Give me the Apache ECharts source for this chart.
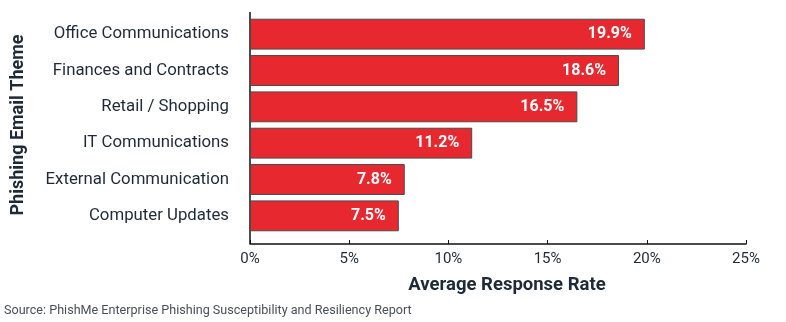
<!DOCTYPE html>
<html>
<head>
<meta charset="utf-8">
<script src="https://cdn.jsdelivr.net/npm/echarts@6/dist/echarts.min.js"></script>
<style>
  html, body { margin: 0; padding: 0; background: #fff; }
  #chart { width: 786px; height: 322px; }
</style>
</head>
<body>
<div id="chart"></div>
<script>
// Phishing email themes, listed top to bottom
const themes = [
  'Office Communications',
  'Finances and Contracts',
  'Retail / Shopping',
  'IT Communications',
  'External Communication',
  'Computer Updates'
];
// Average response rate (%) for each theme
const responseRates = [19.9, 18.6, 16.5, 11.2, 7.8, 7.5];
// Value axis ticks (%)
const rateTicks = [0, 5, 10, 15, 20, 25];

const FONT = 'Roboto, "Open Sans", sans-serif';
const TEXT = '#1e2a38';
const GRID = { left: 250, top: 16, width: 496, height: 218 };
const AXIS_BOTTOM = GRID.top + GRID.height + 10;

const chart = echarts.init(document.getElementById('chart'), null, { renderer: 'canvas' });

chart.setOption({
  animation: false,
  backgroundColor: '#ffffff',
  title: {
    text: 'Source: PhishMe Enterprise Phishing Susceptibility and Resiliency Report',
    left: 4,
    top: 304,
    padding: 0,
    textStyle: { fontFamily: FONT, fontSize: 12.6, fontWeight: 'normal', color: '#4a4f57' }
  },
  grid: GRID,
  xAxis: {
    type: 'value',
    min: rateTicks[0],
    max: rateTicks[rateTicks.length - 1],
    interval: rateTicks[1] - rateTicks[0],
    offset: 10,
    name: 'Average Response Rate',
    nameLocation: 'middle',
    nameGap: 32,
    nameTextStyle: {
      fontFamily: FONT, fontSize: 18.5, fontWeight: 'bold', color: TEXT,
      padding: [0, 0, 0, 18]
    },
    axisLine: { show: true, lineStyle: { color: '#111', width: 1.5 } },
    axisTick: { show: true, inside: true, length: 4, lineStyle: { color: '#111' } },
    axisLabel: {
      fontFamily: FONT, fontSize: 15, color: TEXT, margin: 8,
      formatter: v => v + '%'
    },
    splitLine: { show: false }
  },
  yAxis: {
    type: 'category',
    data: themes,
    inverse: true,
    name: 'Phishing Email Theme',
    nameLocation: 'middle',
    nameRotate: 90,
    nameGap: 223,
    nameTextStyle: { fontFamily: FONT, fontSize: 18, fontWeight: 'bold', color: TEXT },
    axisLine: { show: false },
    axisTick: { show: false },
    axisLabel: { fontFamily: FONT, fontSize: 16.8, color: TEXT, margin: 21 }
  },
  graphic: [{
    type: 'line',
    silent: true,
    shape: { x1: GRID.left, y1: 12, x2: GRID.left, y2: AXIS_BOTTOM },
    style: { stroke: '#111', lineWidth: 1.5 }
  }],
  series: [{
    type: 'bar',
    data: responseRates,
    barCategoryGap: '15%',
    itemStyle: { color: '#e8282f', borderColor: '#4a4a4a', borderWidth: 1 },
    label: {
      show: true,
      position: 'insideRight',
      distance: 13,
      fontFamily: FONT,
      fontSize: 16,
      fontWeight: 'bold',
      color: '#ffffff',
      formatter: p => p.value.toFixed(1) + '%'
    }
  }]
});
</script>
</body>
</html>
